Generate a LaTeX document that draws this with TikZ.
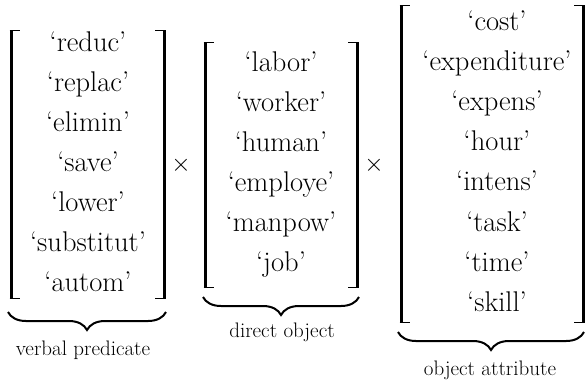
\documentclass[tikz,border=0pt]{standalone}
\usepackage{tikz}
\usetikzlibrary{decorations.pathreplacing}

% square brackets: {left x}{right x}{top y}{bottom y}
\newcommand{\sqbrackets}[4]{%
  \draw[bar] (#1,#3) -- (#1,#4);
  \draw[bar] (#2,#3) -- (#2,#4);
  \draw[arm] (#1-1.5,#3+0.7) -- (#1+9,#3+0.7);
  \draw[arm] (#1-1.5,#4-0.7) -- (#1+9,#4-0.7);
  \draw[arm] (#2+1.5,#3+0.7) -- (#2-9,#3+0.7);
  \draw[arm] (#2+1.5,#4-0.7) -- (#2-9,#4-0.7);
}

\begin{document}
\begin{tikzpicture}[
    x=1pt, y=-1pt,
    word/.style={anchor=base, inner sep=0pt, font=\fontsize{28.5}{34}\selectfont},
    cross/.style={inner sep=0pt, font=\fontsize{27}{32}\selectfont},
    lbl/.style={anchor=base, inner sep=0pt, font=\fontsize{21}{25}\selectfont},
    bar/.style={line width=3pt},
    arm/.style={line width=1.5pt},
    under/.style={decorate, decoration={brace, mirror, amplitude=18pt},
                  line width=2pt}
]
\useasboundingbox (0,0) rectangle (585,384);

% verbal predicate
\sqbrackets{11}{164}{30}{299}
\foreach \w [count=\i] in {reduc,replac,elimin,save,lower,substitut,autom}
  \node[word] (v\i) at (88, 51.5+40*\i-40) {‘\w’};
\draw[under] (8,312) -- (166,312);
\node[lbl] (vlbl) at (83,355) {verbal predicate};

\node[cross] (x1) at (181,165) {$\times$};

% direct object
\sqbrackets{205}{357}{42}{288}
\foreach \w [count=\i] in {labor,worker,human,employe,manpow,job}
  \node[word] (o\i) at (281, 71.5+40*\i-40) {‘\w’};
\draw[under] (203,297) -- (359,297);
\node[lbl] (olbl) at (282,337) {direct object};

\node[cross] (x2) at (374,165) {$\times$};

% object attribute
\sqbrackets{401}{583}{5}{323}
\foreach \w [count=\i] in {cost,expenditure,expens,hour,intens,task,time,skill}
  \node[word] (a\i) at (497, 30+40.2*\i-40.2) {‘\w’};
\draw[under] (398,332) -- (584,332);
\node[lbl] (albl) at (490,375) {object attribute};
\end{tikzpicture}
\end{document}
